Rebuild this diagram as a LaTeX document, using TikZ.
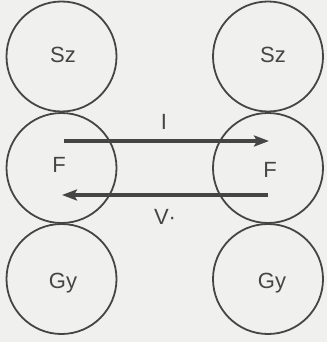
\documentclass[tikz,border=0pt]{standalone}
\usepackage{fontspec}
\setmainfont{Liberation Sans}
\usetikzlibrary{arrows.meta}
\definecolor{ink}{HTML}{454545}
\definecolor{paper}{HTML}{F0F0EE}
\begin{document}
\begin{tikzpicture}[x=1pt,y=-1pt,
  ball/.style={circle,draw=ink,line width=1.8pt,minimum size=110pt,inner sep=0pt},
  lbl/.style={text=ink,font=\fontsize{22}{22}\selectfont,inner sep=0pt},
  flow/.style={draw=ink,line width=3.6pt,-{Stealth[length=15pt,width=11pt,inset=3pt]}}]
\fill[paper] (0,0) rectangle (327,342);
\useasboundingbox (0,0) rectangle (327,342);
\node[ball] (lsz) at (61.5,56.5) {};
\node[ball] (lf)  at (61.5,168) {};
\node[ball] (lgy) at (61.5,279) {};
\node[ball] (rsz) at (268,56.5) {};
\node[ball] (rf)  at (268,168) {};
\node[ball] (rgy) at (268,279) {};
\node[lbl] (tlsz) at (63,55) {Sz};
\node[lbl] (trsz) at (273,55) {Sz};
\node[lbl] (tlf)  at (59,165) {F};
\node[lbl] (trf)  at (270,170) {F};
\node[lbl] (tlgy) at (63,283) {Gy};
\node[lbl] (trgy) at (272,283) {Gy};
\coordinate (a1) at (64,141);
\coordinate (a2) at (269,141);
\coordinate (b1) at (268,195);
\coordinate (b2) at (62,195);
\draw[flow] (a1) -- (a2);
\draw[flow] (b1) -- (b2);
\node[lbl] (ti) at (164,122) {I};
\node[lbl] (tv) at (165,217) {V·};
\end{tikzpicture}
\end{document}
